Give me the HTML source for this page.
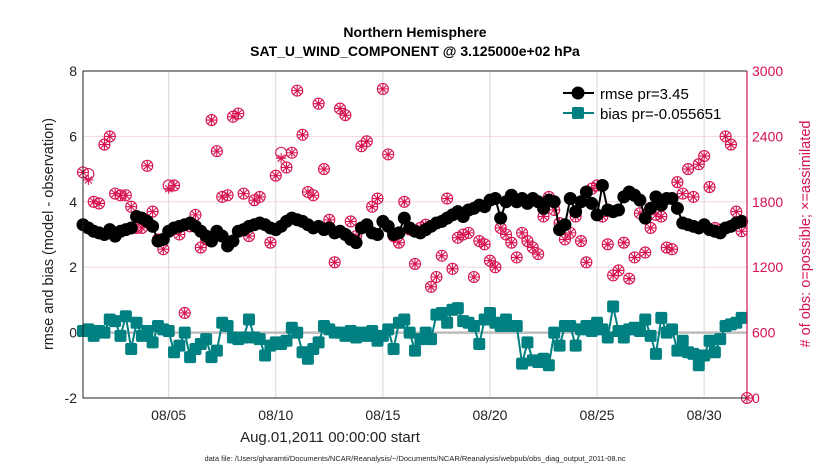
<!DOCTYPE html>
<html><head><meta charset="utf-8"><style>
body{margin:0;background:#fff;width:830px;height:470px;overflow:hidden}
text{font-family:"Liberation Sans",sans-serif}
</style></head><body>
<svg id="chart" width="830" height="470" xmlns="http://www.w3.org/2000/svg">
<g id="grid"></g>
<g id="obsg"></g>
<g id="rmseg"></g>
<g id="biasg"></g>
<g id="axes"></g>
<text x="415" y="37" text-anchor="middle" font-size="14" font-weight="bold">Northern Hemisphere</text>
<text x="415" y="56" text-anchor="middle" font-size="14" font-weight="bold">SAT_U_WIND_COMPONENT @ 3.125000e+02 hPa</text>
<text x="330" y="442" text-anchor="middle" font-size="15" fill="#222">Aug.01,2011 00:00:00 start</text>
<text x="415" y="461" text-anchor="middle" font-size="7.5" fill="#222">data file: /Users/gharamti/Documents/NCAR/Reanalysis/~/Documents/NCAR/Reanalysis/webpub/obs_diag_output_2011-08.nc</text>
<text transform="translate(53,234) rotate(-90)" text-anchor="middle" font-size="14.5" fill="#222">rmse and bias (model - observation)</text>
<text transform="translate(810,234) rotate(-90)" text-anchor="middle" font-size="14.5" fill="#d6124f"># of obs: o=possible; ×=assimilated</text>
<g>
<g><line x1="563" y1="93" x2="594" y2="93" stroke="#000" stroke-width="2"/><circle cx="578" cy="93" r="6.5" fill="#000"/><text x="600" y="99" font-size="15">rmse pr=3.45</text></g>
<g><line x1="563" y1="113" x2="594" y2="113" stroke="#008080" stroke-width="2"/><rect x="572" y="107" width="12" height="12" rx="2" fill="#008080"/><text x="600" y="119" font-size="15">bias pr=-0.055651</text></g>
</g>
</svg>
<script>
const rmse=[3.3,3.2,3.1,3.05,3.0,3.15,2.95,3.1,3.15,3.2,3.55,3.5,3.4,3.25,2.8,2.85,3.1,3.2,3.25,3.3,3.35,3.25,3.1,2.95,2.8,3.1,2.95,2.65,2.8,3.1,3.15,3.25,3.3,3.35,3.3,3.2,3.15,3.25,3.4,3.5,
3.45,3.4,3.3,3.2,3.25,3.15,3.2,3.05,3.1,3.0,2.85,2.75,3.2,3.3,3.05,3.0,3.4,3.25,3.0,3.05,3.5,3.2,3.1,3.05,3.15,3.25,3.35,3.4,3.5,3.6,3.7,3.55,3.75,3.8,3.9,3.85,4.05,4.1,3.5,4.0,
4.2,4.0,4.1,3.95,4.1,4.0,3.8,4.05,4.0,3.15,3.3,4.1,3.7,4.0,4.3,3.95,3.6,4.5,3.75,3.7,3.75,4.15,4.3,4.2,4.05,3.5,3.8,4.15,3.9,4.1,4.1,3.8,3.35,3.3,3.25,3.2,3.3,3.15,3.1,3.05,
3.2,3.25,3.35,3.4];
const bias=[0.05,0.1,-0.1,0.05,0.0,0.4,0.35,-0.1,0.5,-0.5,0.3,-0.1,0.05,-0.3,0.2,0.1,0.05,-0.6,-0.4,0.0,-0.75,-0.5,-0.35,-0.2,-0.75,-0.55,0.3,0.2,-0.15,-0.2,-0.15,0.4,-0.15,-0.2,-0.7,-0.4,-0.3,-0.35,-0.25,0.15,
0.0,-0.6,-0.8,-0.5,-0.3,0.2,0.1,0.0,0.0,-0.1,0.05,-0.15,0.0,-0.1,0.05,-0.25,-0.1,0.1,-0.5,0.3,0.4,0.0,-0.55,-0.2,0.0,-0.2,0.55,0.6,0.3,0.7,0.75,0.35,0.3,0.2,-0.35,0.4,0.6,0.3,0.2,0.4,
0.2,0.2,-0.95,-0.3,-0.85,-0.9,-0.8,-1.0,0.0,-0.4,0.2,0.2,-0.4,0.1,0.2,0.05,0.3,0.1,-0.15,0.8,0.05,-0.15,0.1,0.15,0.05,0.4,-0.1,-0.65,0.45,0.0,0.1,-0.55,-0.25,-0.6,-0.65,-1.0,-0.7,-0.25,-0.6,-0.2,
0.2,0.25,0.3,0.45];
const possible=[2070,2055,1800,1785,2325,2400,1875,1860,1860,1755,1560,1560,2130,1710,1455,1365,1950,1950,1500,780,1575,1680,1380,1455,2550,2265,1845,1860,2580,2610,1875,1485,1815,1845,1590,1425,2040,2250,2115,2250,
2820,2415,1890,1860,2700,2100,1635,1245,2655,2595,1620,1485,2310,2355,1755,1830,2835,2235,1485,1425,1800,1545,1230,1560,1590,1020,1110,1305,1830,1185,1470,1500,1515,1110,1440,1410,1260,1200,1560,1500,
1425,1290,1515,1440,1380,1320,1665,1845,1725,1605,1455,1515,1665,1440,1245,1920,1950,1665,1410,1125,1170,1425,1095,1290,1695,1335,1560,1680,1665,1380,1365,1980,1875,2100,1845,2145,2220,1935,1560,1545,2400,2325,1710,1530,0];
const assimilated=[2070,2000,1800,1785,2325,2400,1875,1860,1860,1755,1560,1560,2130,1710,1455,1365,1920,1950,1500,780,1575,1680,1380,1455,2550,2265,1845,1860,2580,2610,1875,1485,1815,1845,1590,1425,2040,2200,2115,2250,
2820,2415,1890,1860,2700,2100,1635,1245,2655,2595,1620,1485,2310,2355,1755,1830,2835,2235,1485,1425,1800,1545,1230,1560,1590,1020,1110,1305,1830,1185,1470,1500,1515,1110,1440,1410,1260,1200,1560,1500,
1425,1290,1515,1440,1380,1320,1665,1845,1725,1605,1455,1515,1665,1440,1245,1920,1950,1665,1410,1125,1170,1425,1095,1290,1695,1335,1560,1680,1665,1380,1365,1980,1875,2100,1845,2145,2220,1935,1560,1545,2400,2325,1710,1530,0];
const xTickDays=[4,9,14,19,24,29];
const xTickLabels=["08/05","08/10","08/15","08/20","08/25","08/30"];
const yTicksLeft=[-2,0,2,4,6,8];
const yTicksRight=[0,600,1200,1800,2400,3000];

const NS="http://www.w3.org/2000/svg";
const X0=83,X1=747,Y0=398,Y1=71;
const xs=d=>X0+d/31*(X1-X0);
const yL=v=>Y0-(v+2)/10*(Y0-Y1);
const yR=c=>Y0-c/3000*(Y0-Y1);
function mk(tag,attrs,parent){const e=document.createElementNS(NS,tag);for(const k in attrs)e.setAttribute(k,attrs[k]);parent.appendChild(e);return e;}
const grid=document.getElementById('grid'),axes=document.getElementById('axes');
yTicksRight.forEach(c=>{const l=mk('line',{x1:X0,x2:X1,y1:yR(c),y2:yR(c),stroke:'#f3d6df','stroke-width':1},grid);

});
xTickDays.forEach((d,i)=>{const l=mk('line',{x1:xs(d),x2:xs(d),y1:Y1,y2:Y0,stroke:'#d8d8d8','stroke-width':1},grid);


const t=mk('text',{x:xs(d),y:Y0+22,'text-anchor':'middle','font-size':14,fill:'#222'},axes);t.textContent=xTickLabels[i];

});
yTicksLeft.forEach(v=>{const t=mk('text',{x:X0-6,y:yL(v)+5,'text-anchor':'end','font-size':14,fill:'#222'},axes);t.textContent=v;

});
yTicksRight.forEach(c=>{const t=mk('text',{x:X1+5,y:yR(c)+5,'font-size':14,fill:'#d6124f'},axes);t.textContent=c;

});
const zl=mk('line',{x1:X0,x2:X1,y1:yL(0),y2:yL(0),stroke:'#bdbdbd','stroke-width':2.5},grid);


const fr=mk('path',{d:`M${X1},${Y1}H${X0}V${Y0}H${X1}`,fill:'none',stroke:'#222','stroke-width':1},axes);


const ra=mk('line',{x1:X1,x2:X1,y1:Y1,y2:Y0,stroke:'#d6124f','stroke-width':1.2},axes);



const og=document.getElementById('obsg');const col='#d6124f';
possible.forEach((c,i)=>{const x=xs(i/4),y=yR(c);
const ci=mk('circle',{cx:x,cy:y,r:5.5,fill:'none',stroke:col,'stroke-width':1.1},og);

});
assimilated.forEach((c,i)=>{const x=xs(i/4),y=yR(c),r=5;
const p=mk('path',{d:`M${x-r},${y}H${x+r}M${x},${y-r}V${y+r}M${x-3.5},${y-3.5}L${x+3.5},${y+3.5}M${x-3.5},${y+3.5}L${x+3.5},${y-3.5}`,stroke:col,'stroke-width':1.1},og);

});

const rg=document.getElementById('rmseg');
const rl=mk('polyline',{points:rmse.map((v,i)=>xs(i/4)+','+yL(v)).join(' '),fill:'none',stroke:'#000','stroke-width':2},rg);


rmse.forEach((v,i)=>{const c=mk('circle',{cx:xs(i/4),cy:yL(v),r:6.5,fill:'#000'},rg);

});

const bg=document.getElementById('biasg');
const bl=mk('polyline',{points:bias.map((v,i)=>xs(i/4)+','+yL(v)).join(' '),fill:'none',stroke:'#008080','stroke-width':2},bg);


bias.forEach((v,i)=>{const r=mk('rect',{x:xs(i/4)-6,y:yL(v)-6,width:12,height:12,rx:2,fill:'#008080'},bg);

});
</script>
</body></html>
